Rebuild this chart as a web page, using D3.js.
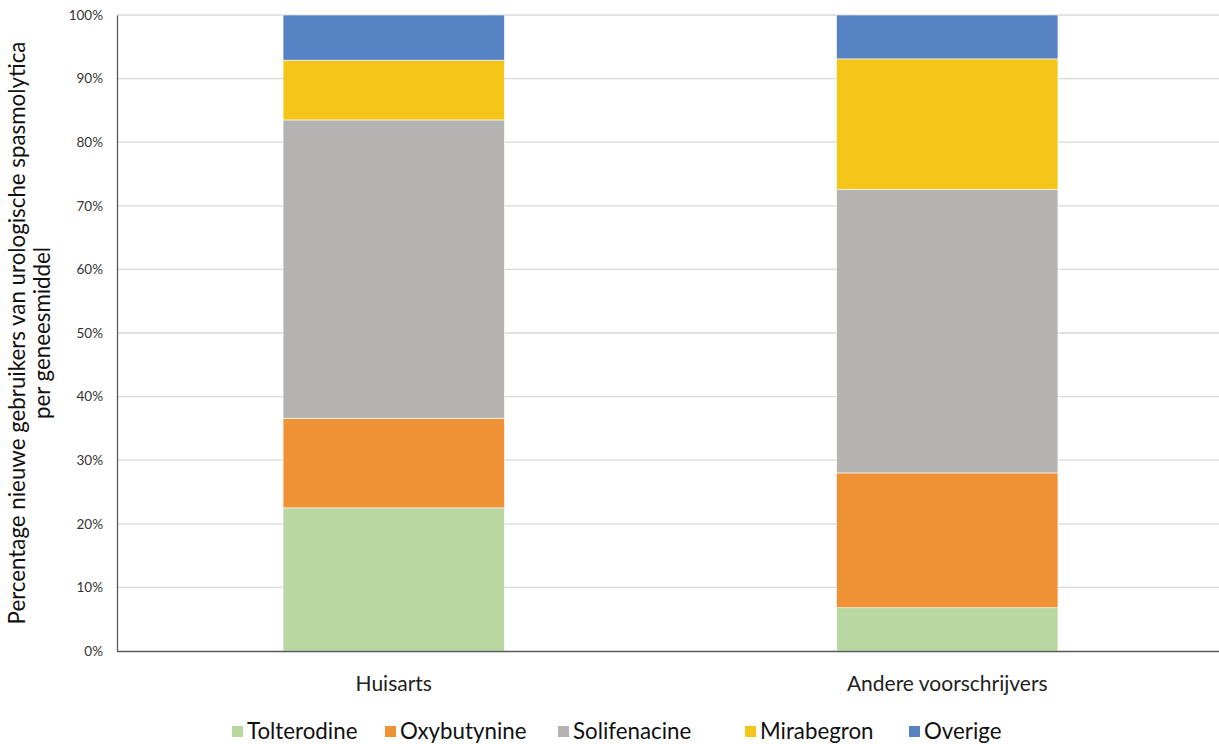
<!DOCTYPE html>
<html>
<head>
<meta charset="utf-8">
<script src="https://cdn.jsdelivr.net/npm/d3@7"></script>
<style>
  html, body { margin: 0; padding: 0; background: #fff; }
  svg { display: block; font-family: Lato, "Open Sans", sans-serif; }
</style>
</head>
<body>
<svg id="chart" width="1219" height="744"></svg>
<script>
// Share of new users of urological spasmolytics per drug, by prescriber (%)
const categories = ["Huisarts", "Andere voorschrijvers"];
const drugs = ["Tolterodine", "Oxybutynine", "Solifenacine", "Mirabegron", "Overige"];
const tolterodine  = [22.5, 6.8];
const oxybutynine  = [14.1, 21.2];
const solifenacine = [46.9, 44.6];
const mirabegron   = [9.4, 20.5];
const overige      = [7.1, 6.9];
const yTicks = [0, 10, 20, 30, 40, 50, 60, 70, 80, 90, 100];
const colors = ["#b8d7a1", "#ef9135", "#b4b3b1", "#f3c619", "#5583c3"];

const seriesValues = [tolterodine, oxybutynine, solifenacine, mirabegron, overige];
const rows = categories.map((c, i) => {
  const r = { category: c };
  drugs.forEach((d, j) => { r[d] = seriesValues[j][i]; });
  return r;
});

const svg = d3.select("#chart");
const m = { left: 117, right: -5, top: 15, bottom: 93 };
const W = 1219, H = 744;

const x = d3.scaleBand().domain(categories)
  .range([m.left, W - m.right]).paddingInner(0.6).paddingOuter(0.3);
const y = d3.scaleLinear().domain([0, 100]).range([H - m.bottom, m.top]);

// gridlines
svg.append("g")
  .selectAll("line").data(yTicks.filter(t => t > 0)).join("line")
  .attr("x1", m.left).attr("x2", W)
  .attr("y1", d => y(d)).attr("y2", d => y(d))
  .attr("stroke", "#d9d9d9").attr("stroke-width", 1.3);

// stacked bars
const stack = d3.stack().keys(drugs)(rows);
svg.append("g").selectAll("g").data(stack).join("g")
  .attr("fill", (d, i) => colors[i])
  .selectAll("rect").data(d => d).join("rect")
  .attr("x", d => x(d.data.category))
  .attr("width", x.bandwidth())
  .attr("y", d => y(d[1]))
  .attr("height", d => y(d[0]) - y(d[1]))
  .attr("stroke", "#ffffff").attr("stroke-width", 0.6);

// y axis
const yAxis = svg.append("g")
  .attr("transform", `translate(${m.left},0)`)
  .call(d3.axisLeft(y).tickValues(yTicks).tickFormat(d => d + "%").tickSize(0).tickPadding(14));
yAxis.select(".domain").attr("stroke", "#595959").attr("stroke-width", 1.3);
yAxis.selectAll("text").attr("font-size", 13.5).attr("fill", "#333").attr("font-family", "Lato, sans-serif");

// x axis
const xAxis = svg.append("g")
  .attr("transform", `translate(0,${H - m.bottom})`)
  .call(d3.axisBottom(x).tickSize(0).tickPadding(25));
xAxis.select(".domain").attr("stroke", "#595959").attr("stroke-width", 1.3)
  .attr("d", `M${m.left},0.5H${W}`);
xAxis.selectAll("text").attr("font-size", 21).attr("fill", "#222").attr("font-family", "Lato, sans-serif");

// y axis title
const title = svg.append("text")
  .attr("transform", `translate(25,${(y(0) + y(100)) / 2}) rotate(-90)`)
  .attr("text-anchor", "middle").attr("font-size", 22.3).attr("fill", "#111");
title.append("tspan").attr("x", 0).attr("dy", 0).text("Percentage nieuwe gebruikers van urologische spasmolytica");
title.append("tspan").attr("x", 0).attr("dy", 25).text("per geneesmiddel");

// legend
const legendX = [232, 385, 558, 745, 909];
const lg = svg.append("g").attr("transform", "translate(0,739)");
drugs.forEach((d, i) => {
  const g = lg.append("g").attr("transform", `translate(${legendX[i]},0)`);
  g.append("rect").attr("x", 0).attr("y", -13).attr("width", 11).attr("height", 11).attr("fill", colors[i]);
  g.append("text").attr("x", 15).attr("y", 0).attr("font-size", 22.3).attr("fill", "#111").text(d);
});
</script>
</body>
</html>
